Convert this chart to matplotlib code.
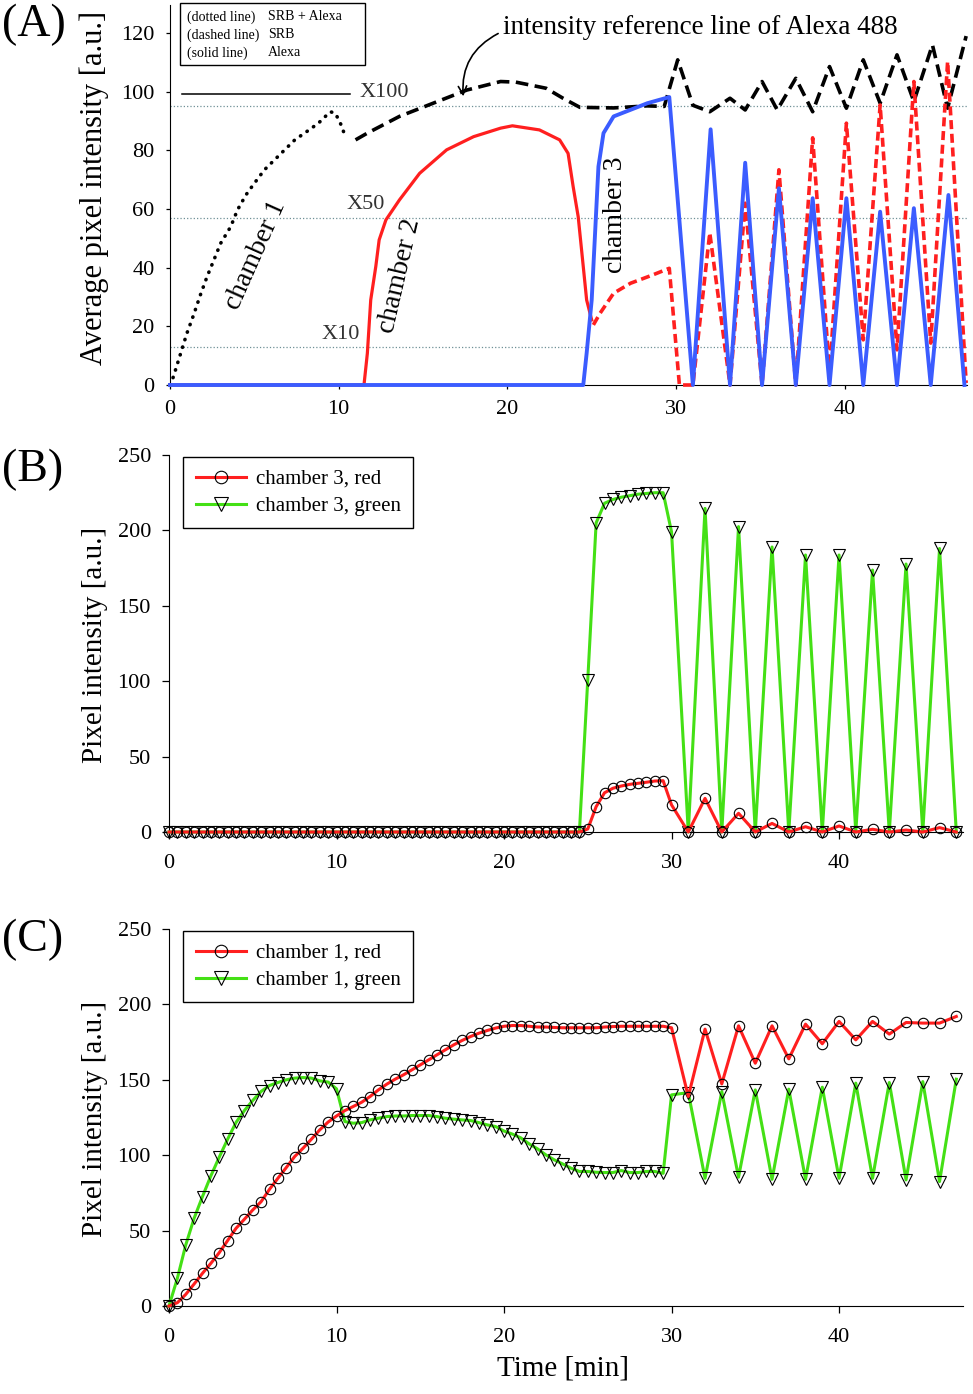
import matplotlib
matplotlib.use('Agg')
import matplotlib.pyplot as plt
import numpy as np

plt.rcParams['font.family'] = ['Liberation Serif', 'DejaVu Serif']

# ---------------- panel A : averaged intensities ----------------
ch1_t = [0.0, 0.2, 0.6, 1.0, 1.4, 1.8, 2.2, 2.6, 3.0, 3.6, 4.0, 4.5, 5.0, 5.6, 6.2, 6.8,
         7.4, 8.1, 8.8, 9.5, 9.8, 10.1, 10.4]
ch1_v = [0.0, 2.8, 10.2, 17.6, 23.9, 30.7, 37.0, 42.6, 48.3, 54.0, 59.7, 64.8, 68.8, 73.4,
         76.8, 80.2, 83.6, 86.4, 89.3, 93.2, 92.7, 89.3, 84.7]

ref_t = [11.0, 11.7, 13.6, 15.6, 17.6, 19.6, 20.5, 22.3, 23.3, 24.3, 26.3, 28.3, 29.3, 30.1,
         31.0, 32.0, 33.2, 34.1, 35.1, 36.0, 37.1, 38.1, 39.1, 40.1, 41.1, 42.1, 43.1, 44.1,
         45.2, 46.1, 47.2]
ref_v = [83.6, 85.9, 91.6, 96.1, 100.6, 103.5, 103.3, 101.2, 97.8, 94.7, 94.5, 95.2, 95.0,
         110.9, 95.4, 93.2, 97.8, 93.8, 103.5, 93.8, 104.6, 93.2, 108.6, 94.4, 110.9, 96.1,
         112.6, 96.7, 116.0, 94.4, 119.0]

ch2_t = [0.0, 11.5, 11.7, 11.9, 12.2, 12.4, 12.8, 13.6, 14.8, 16.4, 18.0, 19.6, 20.3, 21.9,
         23.1, 23.6, 23.9, 24.2, 24.5, 24.7, 25.0]
ch2_v = [0.0, 0.0, 10.8, 29.0, 40.4, 49.5, 56.3, 63.1, 72.2, 80.2, 84.7, 87.6, 88.4, 87.0,
         83.6, 79.0, 67.7, 57.4, 40.4, 29.0, 22.2]

srb3_t = [25.1, 25.5, 26.3, 27.3, 28.6, 29.6, 30.2, 31.0, 32.0, 33.2, 34.1, 35.1, 36.1, 37.1,
          38.1, 39.1, 40.1, 41.1, 42.1, 43.1, 44.1, 45.1, 46.1, 47.2]
srb3_v = [20.5, 24.5, 31.3, 34.7, 37.5, 39.8, 0.0, 0.0, 51.9, 0.0, 62.0, 0.0, 73.4, 0.0,
          84.3, 4.1, 89.3, 15.4, 95.5, 12.0, 103.5, 14.3, 110.3, 0.7]

ch3_t = [0.0, 24.5, 24.7, 25.0, 25.2, 25.4, 25.7, 26.3, 28.3, 29.6, 31.0, 32.05, 33.2, 34.1,
         35.1, 36.1, 37.1, 38.1, 39.1, 40.1, 41.1, 42.1, 43.1, 44.1, 45.1, 46.15, 47.1]
ch3_v = [0.0, 0.0, 10.8, 29.0, 51.7, 74.5, 85.9, 91.6, 96.1, 98.2, 0.0, 87.2, 0.0, 75.8, 0.0,
         67.1, 0.0, 63.7, 0.0, 63.7, 0.0, 59.1, 0.0, 60.3, 0.0, 64.8, 0.0]

level_vals = [95.3, 57.1, 12.9]
level_names = ['X100', 'X50', 'X10']

# ---------------- panel B : chamber 3 ----------------
t_bc = np.concatenate([np.arange(0, 30.5, 0.5), np.arange(31, 48)])

red_b = [0.0] * 50 + [2.0, 16.8, 26.0, 29.0, 30.5, 31.6, 32.3, 33.0, 33.8, 34.0, 18.0,
                      0.0, 22.3, 0.0, 12.4, 0.0, 5.7, 0.0, 3.5, 0.0, 4.0, 0.0, 1.8, 0.0,
                      1.3, 0.0, 2.9, 0.0]
green_b = [0.0] * 50 + [101.0, 205.0, 218.0, 220.5, 222.0, 223.0, 224.0, 224.5, 225.0, 225.0,
                        199.0, 0.0, 214.6, 0.0, 202.5, 0.0, 189.0, 0.0, 183.7, 0.0, 183.7,
                        0.0, 173.7, 0.0, 177.7, 0.0, 188.0, 0.0]

# ---------------- panel C : chamber 1 ----------------
red_c = [0.0, 2.2, 7.7, 14.6, 21.7, 28.3, 35.4, 43.4, 51.5, 57.5,
         63.7, 69.2, 77.4, 84.7, 91.8, 99.1, 104.6, 110.6, 116.8, 122.0,
         126.0, 129.6, 132.3, 135.1, 138.9, 143.3, 147.1, 150.4, 153.3, 156.6,
         159.9, 163.2, 166.6, 169.9, 173.2, 176.1, 178.7, 180.9, 182.7, 184.3,
         185.5, 186.0, 186.0, 185.5, 185.0, 185.0, 184.7, 184.5, 184.5, 184.5,
         184.5, 184.5, 185.0, 185.3, 185.5, 185.5, 185.5, 185.5, 185.5, 185.5,
         184.5,
         138.9, 183.6, 147.3, 185.8, 161.0, 185.8, 163.9, 186.9, 173.9, 188.7,
         176.5, 188.7, 180.3, 188.0, 187.6, 187.6, 192.0]
green_c = [0.0, 18.4, 40.5, 58.2, 72.6, 86.3, 98.7, 110.6, 121.7, 129.6,
           136.3, 142.3, 146.2, 148.2, 150.0, 151.1, 151.5, 151.1, 149.3, 148.5,
           144.0, 122.3, 121.2, 121.6, 123.4, 124.5, 125.6, 126.0, 126.0, 126.3,
           126.3, 126.3, 125.6, 124.5, 123.9, 123.4, 123.0, 121.6, 120.1, 119.0,
           116.0, 114.0, 111.5, 107.5, 104.2, 100.2, 96.9, 94.2, 91.4, 89.2,
           89.2, 88.7, 88.5, 88.5, 89.8, 88.5, 88.5, 89.2, 89.2, 88.0,
           140.0,
           141.5, 84.7, 142.2, 85.4, 143.3, 84.0, 143.8, 84.0, 145.1, 84.7,
           147.8, 84.7, 148.2, 83.6, 148.8, 82.5, 150.4]

RED = '#ff1f1f'
GREEN = '#44e015'
BLUE = '#3b5cff'
GRAYLINE = '#6f9096'

W, H = 973, 1394


def fx(x):
    return x / W


def fy(y):
    return 1 - y / H


def style_axes(ax, pad_x, pad_y, tick_len):
    ax.spines['top'].set_visible(False)
    ax.spines['right'].set_visible(False)
    ax.tick_params(axis='both', direction='out', length=tick_len, width=0.9,
                   labelsize=16)
    ax.tick_params(axis='x', pad=pad_x)
    ax.tick_params(axis='y', pad=pad_y)


fig = plt.figure(figsize=(W / 100, H / 100), dpi=100)

# ---------------- panel A ----------------
axA = fig.add_axes([fx(170), fy(385), (967 - 170) / W, 380 / H])
axA.set_xlim(0, 47.25)
axA.set_ylim(0, 129.6)
style_axes(axA, 8, 8, 3)
axA.set_xticks([0, 10, 20, 30, 40])
axA.set_yticks([0, 20, 40, 60, 80, 100, 120])

for lv in level_vals:
    axA.axhline(lv, color=GRAYLINE, lw=0.9, ls=':', zorder=1)
axA.plot([0.73, 10.7], [99.2, 99.2], color='black', lw=1.1, zorder=2)
axA.text(12.7, 99.6, level_names[0], fontsize=16, color='#333333', ha='center', va='center')
axA.text(11.6, 61.4, level_names[1], fontsize=16, color='#333333', ha='center', va='center')
axA.text(10.1, 17.1, level_names[2], fontsize=16, color='#333333', ha='center', va='center')

axA.plot(ref_t, ref_v, color='black', lw=2.6, ls=(0, (3.5, 1.8)), zorder=3, clip_on=False)
axA.plot(ch1_t, ch1_v, color='black', lw=2.6, ls=(0, (0.1, 2.1)),
         dash_capstyle='round', zorder=3, clip_on=False)
axA.plot(ch2_t, ch2_v, color=RED, lw=2.3, zorder=4, clip_on=False)
axA.plot(srb3_t, srb3_v, color=RED, lw=2.6, ls=(0, (2.5, 1.3)), zorder=4, clip_on=False)
axA.plot(ch3_t, ch3_v, color=BLUE, lw=2.8, zorder=5, clip_on=False)

axA.text(5.1, 44.3, 'chamber 1', fontsize=20, rotation=66, rotation_mode='anchor',
         ha='center', va='center')
axA.text(13.6, 37.2, 'chamber 2', fontsize=20, rotation=77, rotation_mode='anchor',
         ha='center', va='center')
axA.text(26.4, 58.0, 'chamber 3', fontsize=20, rotation=90, rotation_mode='anchor',
         ha='center', va='center')

# reference line annotation
axA.annotate('', xy=(17.4, 97.5), xytext=(19.6, 120.3),
             arrowprops=dict(arrowstyle='->,head_length=0.6,head_width=0.3', lw=1.2,
                             color='black', connectionstyle='arc3,rad=0.35'),
             annotation_clip=False)
fig.text(fx(503), fy(27), 'intensity reference line of Alexa 488', fontsize=19.5,
         ha='left', va='center')

# line-style key of panel A
key = plt.Rectangle((fx(180), fy(65)), (365 - 180) / W, 62 / H, transform=fig.transFigure,
                    fill=False, edgecolor='black', lw=1.0)
fig.patches.append(key)
for row, (a, b) in enumerate([('(dotted line)', 'SRB + Alexa'),
                              ('(dashed line)', 'SRB'),
                              ('(solid line)', 'Alexa')]):
    fig.text(fx(187), fy(17 + 18 * row), a, fontsize=10, ha='left', va='center')
    fig.text(fx(268), fy(17 + 18 * row), b, fontsize=10, ha='left', va='center')

axA.set_ylabel('Average pixel intensity [a.u.]', fontsize=22)
axA.yaxis.set_label_coords((109 - 170) / 797, (385 - 188) / 380)

# ---------------- panel B and C ----------------
def draw_pair(ax, red, green, chamber):
    ax.set_xlim(0, 47.4)
    ax.set_ylim(0, 250)
    style_axes(ax, 11, 8, 5)
    ax.set_xticks([0, 10, 20, 30, 40])
    ax.set_yticks([0, 50, 100, 150, 200, 250])
    ax.plot(t_bc, red, color=RED, lw=2.2, marker='o', ms=7.5, mfc='none', mec='black',
            mew=0.8, label='chamber %d, red' % chamber, clip_on=False, zorder=4)
    ax.plot(t_bc, green, color=GREEN, lw=2.2, marker='v', ms=8.5, mfc='none', mec='black',
            mew=0.8, label='chamber %d, green' % chamber, clip_on=False, zorder=3)
    leg = ax.legend(loc='upper left', bbox_to_anchor=((183 - 169) / 794, 0.995),
                    borderaxespad=0, fontsize=15, frameon=True, fancybox=False,
                    edgecolor='black', framealpha=1, handlelength=2.4,
                    handletextpad=0.5, borderpad=0.6, labelspacing=0.35, markerscale=1.2)
    leg.get_frame().set_linewidth(1.0)
    ax.set_ylabel('Pixel intensity [a.u.]', fontsize=21)
    ax.yaxis.set_label_coords((108 - 169) / 794, 0.497)


axB = fig.add_axes([fx(169), fy(832), 794 / W, 377 / H])
draw_pair(axB, red_b, green_b, 3)

axC = fig.add_axes([fx(169), fy(1306), 794 / W, 377 / H])
draw_pair(axC, red_c, green_c, 1)
axC.set_xlabel('Time [min]', fontsize=21)
axC.xaxis.set_label_coords((563 - 169) / 794, -0.13)

# panel letters
fig.text(fx(34), fy(25), '(A)', fontsize=33, ha='center', va='center')
fig.text(fx(33), fy(470), '(B)', fontsize=33, ha='center', va='center')
fig.text(fx(33), fy(940), '(C)', fontsize=33, ha='center', va='center')

fig.savefig('out.png', dpi=100)
plt.close(fig)
